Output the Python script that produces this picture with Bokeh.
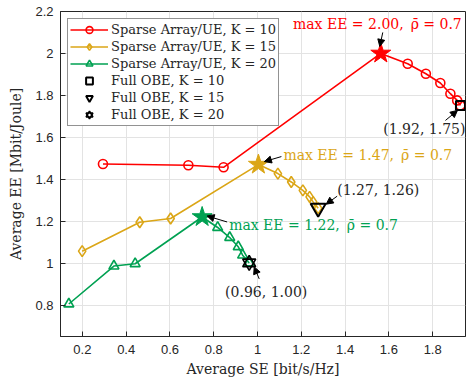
from bokeh.plotting import figure
from bokeh.models import (Range1d, FixedTicker, Legend, LegendItem,
                          Label, Arrow, NormalHead)
from bokeh.embed import file_html
from bokeh.resources import INLINE

# ---------------- data ----------------
se_k10 = [0.294, 0.684, 0.845, 1.563, 1.686, 1.769, 1.835, 1.881, 1.912, 1.927]
ee_k10 = [1.473, 1.467, 1.457, 2.000, 1.951, 1.903, 1.859, 1.808, 1.776, 1.752]
se_k15 = [0.199, 0.462, 0.603, 1.004, 1.093, 1.154, 1.207, 1.238, 1.254, 1.277]
ee_k15 = [1.057, 1.195, 1.213, 1.470, 1.427, 1.387, 1.347, 1.316, 1.292, 1.262]
se_k20 = [0.138, 0.344, 0.441, 0.747, 0.818, 0.873, 0.912, 0.932, 0.962]
ee_k20 = [0.805, 0.986, 0.997, 1.220, 1.170, 1.122, 1.078, 1.038, 1.001]
max_idx = [3, 3, 3]
max_ee = [2.00, 1.47, 1.22]
rho_bar = [0.7, 0.7, 0.7]
full_se = [1.927, 1.277, 0.962]
full_ee = [1.752, 1.262, 1.001]
full_lbl = ["(1.92, 1.75)", "(1.27, 1.26)", "(0.96, 1.00)"]
x_ticks = [0.2, 0.4, 0.6, 0.8, 1.0, 1.2, 1.4, 1.6, 1.8]
x_tick_labels = ["0.2", "0.4", "0.6", "0.8", "1", "1.2", "1.4", "1.6", "1.8"]
y_ticks = [0.8, 1.0, 1.2, 1.4, 1.6, 1.8, 2.0, 2.2]
y_tick_labels = ["0.8", "1", "1.2", "1.4", "1.6", "1.8", "2", "2.2"]
K_values = [10, 15, 20]

# ---------------- layout ----------------
W, H = 466, 381
BL, BR, BT, BB = 60, 1, 11, 45
X0, X1 = 0.1, 1.95
Y0, Y1 = 0.65, 2.2
XPP = (X1 - X0) / (W - BL - BR)
YPP = (Y1 - Y0) / (H - BT - BB)

SERIF = "DejaVu Serif"
SANS = "Liberation Sans"
RED, GOLD, GREEN = "#ff0000", "#dba617", "#00a152"
colors = [RED, GOLD, GREEN]
markers = ["circle", "diamond", "triangle"]
msizes = [9, 11, 10]

p = figure(width=W, height=H, output_backend="svg", toolbar_location=None,
           x_range=Range1d(X0, X1), y_range=Range1d(Y0, Y1),
           min_border_left=BL, min_border_right=BR, min_border_top=BT,
           min_border_bottom=BB, background_fill_color="white",
           border_fill_color="white")
p.outline_line_color = "#262626"
p.outline_line_width = 1

for ax in (p.xaxis[0], p.yaxis[0]):
    ax.major_tick_in = 5
    ax.major_tick_out = 0
    ax.minor_tick_in = 0
    ax.minor_tick_out = 0
    ax.axis_line_color = "#262626"
    ax.major_tick_line_color = "#262626"
    ax.major_label_text_font = SANS
    ax.major_label_text_font_size = "13px"
    ax.major_label_text_color = "#262626"
    ax.axis_label_text_font = SERIF
    ax.axis_label_text_font_size = "14px"
    ax.axis_label_text_font_style = "normal"
    ax.axis_label_text_color = "#262626"

p.xaxis[0].ticker = FixedTicker(ticks=x_ticks)
p.yaxis[0].ticker = FixedTicker(ticks=y_ticks)
p.xaxis[0].major_label_overrides = {t: l for t, l in zip(x_ticks, x_tick_labels)}
p.yaxis[0].major_label_overrides = {t: l for t, l in zip(y_ticks, y_tick_labels)}
p.xaxis[0].major_label_standoff = 8
p.yaxis[0].major_label_standoff = 7
p.xaxis[0].axis_label = "Average SE [bit/s/Hz]"
p.yaxis[0].axis_label = "Average EE [Mbit/Joule]"
p.xaxis[0].axis_label_standoff = 4
p.yaxis[0].axis_label_standoff = 8

p.xgrid.grid_line_color = "#e3e3e3"
p.ygrid.grid_line_color = "#e3e3e3"
p.xgrid.ticker = FixedTicker(ticks=x_ticks)
p.ygrid.ticker = FixedTicker(ticks=y_ticks)

series = [(se_k10, ee_k10), (se_k15, ee_k15), (se_k20, ee_k20)]
items = []
for i, (xs, ys) in enumerate(series):
    c = colors[i]
    m = max_idx[i]
    ln = p.line(xs, ys, line_color=c, line_width=1.6)
    mx = [x for j, x in enumerate(xs) if j != m]
    my = [y for j, y in enumerate(ys) if j != m]
    sc = p.scatter(mx, my, marker=markers[i], size=msizes[i], line_color=c,
                   line_width=1.6, fill_alpha=0)
    p.scatter([xs[m]], [ys[m]], marker="star", size=21, line_color=c,
              fill_color=c, line_width=1)
    items.append(LegendItem(label="Sparse Array/UE, K = %d" % K_values[i],
                            renderers=[ln, sc]))

sq = p.scatter([full_se[0]], [full_ee[0]], marker="square", size=9, line_color="black",
               line_width=2, fill_alpha=0)
it = p.scatter([full_se[1]], [full_ee[1]], marker="inverted_triangle", size=15,
               line_color="black", line_width=2, fill_alpha=0)
h1 = p.scatter([full_se[2]], [full_ee[2]], marker="triangle", size=13, line_color="black",
               line_width=1.6, fill_alpha=0)
h2 = p.scatter([full_se[2]], [full_ee[2]], marker="inverted_triangle", size=13,
               line_color="black", line_width=1.6, fill_alpha=0)
items.append(LegendItem(label="Full OBE, K = %d" % K_values[0], renderers=[sq]))
items.append(LegendItem(label="Full OBE, K = %d" % K_values[1], renderers=[it]))
items.append(LegendItem(label="Full OBE, K = %d" % K_values[2], renderers=[h1, h2]))

legend = Legend(items=items, location="top_left", margin=7, padding=2, spacing=0,
                glyph_width=38, glyph_height=17, label_height=17, label_standoff=3,
                label_text_font=SERIF, label_text_font_size="13px",
                label_text_color="#262626", border_line_color="#262626",
                border_line_width=1, background_fill_alpha=1)
p.add_layout(legend, "center")


def off(x, y, dx, dy):
    return x + dx * XPP, y - dy * YPP


def arrow(x, y, s, e):
    xs, ys = off(x, y, *s)
    xe, ye = off(x, y, *e)
    p.add_layout(Arrow(end=NormalHead(size=7, fill_color="black", line_color="black"),
                       x_start=xs, y_start=ys, x_end=xe, y_end=ye,
                       line_color="black", line_width=1))


def label(x, y, d, txt, color, align):
    lx, ly = off(x, y, *d)
    p.add_layout(Label(x=lx, y=ly, text=txt, text_font=SERIF, text_font_size="14px",
                       text_color=color, text_align=align, text_baseline="middle"))


# max EE annotations
max_cfg = [((81, -29), "right", (2, -21), (-1, -7)),
           ((25, -10), "left", (23, -8), (6, -3)),
           ((27, 8), "left", (25, 5), (5, -1))]
for i, (xs, ys) in enumerate(series):
    m = max_idx[i]
    d, al, s, e = max_cfg[i]
    txt = "max EE = %.2f,\u2002\u03c1\u0304 = %.1f" % (max_ee[i], rho_bar[i])
    label(xs[m], ys[m], d, txt, colors[i], al)
    arrow(xs[m], ys[m], s, e)

full_cfg = [((5, 24), "right", (-15, 15), (-3, 5)),
            ((19, -18), "left", (19, -12), (8, -4)),
            ((17, 29), "center", (10, 16), (5, 4))]
for i in range(3):
    d, al, s, e = full_cfg[i]
    label(full_se[i], full_ee[i], d, full_lbl[i], "#262626", al)
    arrow(full_se[i], full_ee[i], s, e)

open("out.html", "w").write(file_html(p, INLINE))
